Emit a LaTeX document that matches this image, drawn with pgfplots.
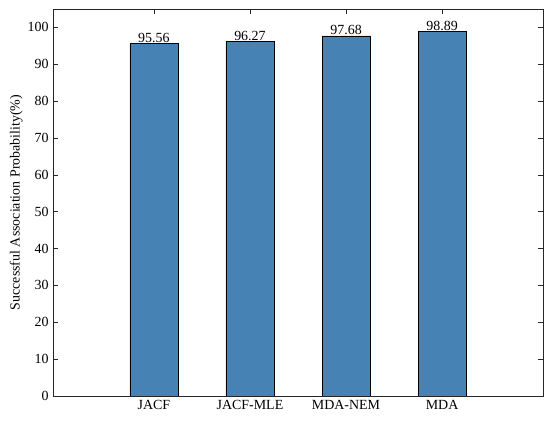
\documentclass[border=0pt]{standalone}
\usepackage{pgfplots}
\pgfplotsset{compat=1.18}
\usepackage{fontspec}
\setmainfont{Liberation Serif}
\definecolor{barblue}{RGB}{70,130,180}
\begin{document}
\begin{tikzpicture}
\begin{axis}[
  scale only axis,
  width=490bp, height=387bp,
  xmin=-0.05, xmax=5.05, ymin=0, ymax=105,
  xtick={1,2,3,4},
  xticklabels={JACF,JACF-MLE,MDA-NEM,MDA},
  ytick={0,10,...,100},
  tick align=inside,
  tick pos=both,
  major tick length=5bp,
  tick style={black!85, line width=0.6pt},
  /pgf/number format/assume math mode=true,
  tick label style={font=\fontsize{14}{16}\selectfont},
  yticklabel style={xshift=-1bp},
  xticklabel style={yshift=-1bp},
  ylabel={Successful Association Probability(\%)},
  every axis y label/.style={at={(ticklabel cs:0.5)},rotate=90,anchor=south, yshift=-2bp, font=\fontsize{14}{16}\selectfont},
  axis line style={black!85, line width=0.6pt},
  nodes near coords,
  nodes near coords style={font=\fontsize{14}{16}\selectfont, inner sep=0.5bp, /pgf/number format/.cd, fixed, fixed zerofill, precision=2, assume math mode=true},
]
\addplot[ybar, bar width=0.5, fill=barblue, draw=black, line width=0.6pt] coordinates {(1,95.56) (2,96.27) (3,97.68) (4,98.89)};
\end{axis}
\pgfresetboundingbox
\useasboundingbox ([shift={(-53bp,-27bp)}]current axis.south west) rectangle ([shift={(7bp,9bp)}]current axis.north east);
\end{tikzpicture}
\end{document}
